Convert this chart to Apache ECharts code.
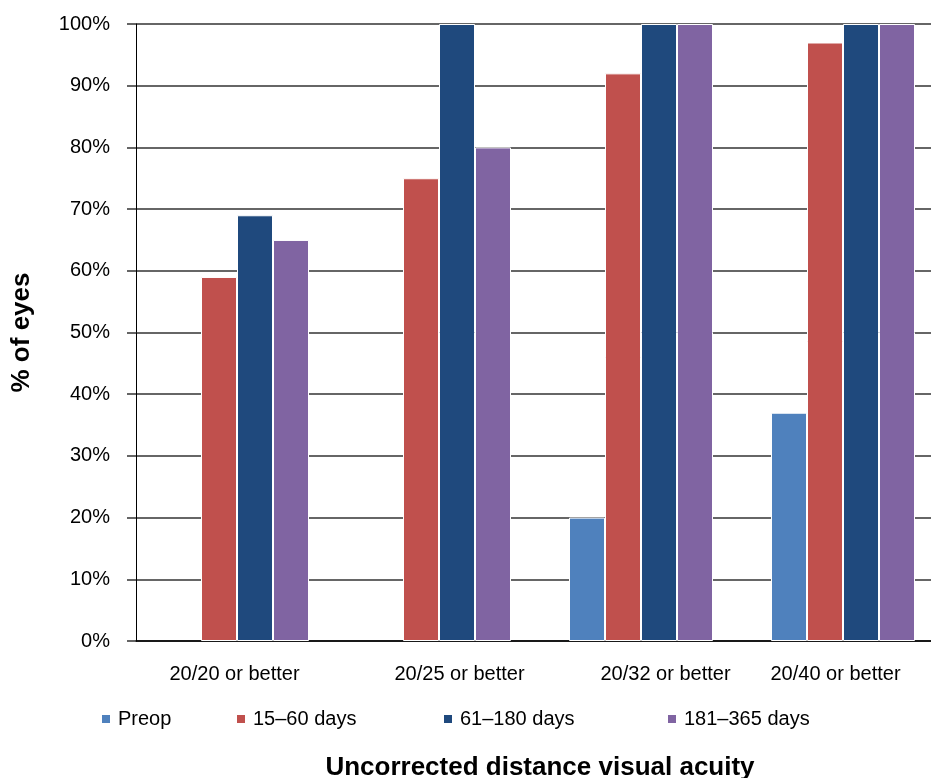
<!DOCTYPE html>
<html><head><meta charset="utf-8">
<script src="https://cdn.jsdelivr.net/npm/echarts@6/dist/echarts.min.js"></script>
<style>html,body{margin:0;padding:0;background:#fff;overflow:hidden}#c{width:944px;height:778px}</style>
</head><body><div id="c"></div>
<script>
const categories = ["20/20 or better","20/25 or better","20/32 or better","20/40 or better"];
const seriesNames = ["Preop","15\u201360 days","61\u2013180 days","181\u2013365 days"];
const preop = [0, 0, 20, 37];
const d15_60 = [59, 75, 92, 97];
const d61_180 = [69, 100, 100, 100];
const d181_365 = [65, 80, 100, 100];
const yTicks = [0,10,20,30,40,50,60,70,80,90,100];
const colors = ["#4F81BD","#C0504D","#1F497D","#8064A2"];

const font = "'Liberation Sans', Arial, sans-serif";
const values = [preop, d15_60, d61_180, d181_365];
const legendLefts = [100, 235, 442, 666];
// per-label horizontal nudges (padding) to match the reference label placement
const labelPad = [[0,5,0,0],[0,0,0,41],[0,0,0,49],[0,15,0,0]];

const rich = {};
labelPad.forEach((p, i) => { rich['l' + i] = {fontSize: 20, color: '#000', fontFamily: font, padding: p}; });

const chart = echarts.init(document.getElementById('c'));
chart.setOption({
  animation: false,
  color: colors,
  textStyle: {fontFamily: font},
  grid: {left: 136, right: 0, top: 24, height: 617, containLabel: false, outerBoundsMode: 'none'},
  legend: seriesNames.map((n, i) => ({
    data: [n], left: legendLefts[i], top: 709, icon: 'rect', padding: 0,
    itemWidth: 10, itemHeight: 10, itemGap: 0,
    textStyle: {fontSize: 20, color: '#000', fontFamily: font, padding: [0,0,0,2]}
  })),
  xAxis: {
    type: 'category', data: categories,
    axisLine: {show: true, lineStyle: {color: '#000', width: 1.5}},
    axisTick: {show: false},
    axisLabel: {fontSize: 20, color: '#000', margin: 23, fontFamily: font, rich: rich, interval: 0,
      formatter: (v, i) => '{l' + i + '|' + v + '}'},
    name: 'Uncorrected distance visual acuity', nameLocation: 'middle', nameGap: 114,
    nameTextStyle: {fontSize: 26, fontWeight: 'bold', color: '#000', fontFamily: font}
  },
  yAxis: {
    type: 'value', min: 0, max: 100, interval: 10,
    axisLine: {show: true, lineStyle: {color: '#000', width: 1}},
    axisTick: {show: true, length: 9, inside: false, lineStyle: {color: '#333', width: 1.5}},
    splitLine: {show: true, lineStyle: {color: '#333', width: 1.5}},
    axisLabel: {fontSize: 20, color: '#000', margin: 26, fontFamily: font,
      formatter: v => yTicks.includes(v) ? v + '%' : ''},
    name: '% of eyes', nameLocation: 'middle', nameGap: 101, nameRotate: 90,
    nameTextStyle: {fontSize: 26, fontWeight: 'bold', color: '#000', fontFamily: font}
  },
  series: values.map((v, i) => ({
    name: seriesNames[i], type: 'bar',
    data: v.map(x => x === 0 ? {value: 0, itemStyle: {borderWidth: 0}} : x),
    barWidth: 36, barGap: '0%',
    itemStyle: {color: colors[i], borderColor: '#fff', borderWidth: 1}
  }))
});
</script></body></html>
